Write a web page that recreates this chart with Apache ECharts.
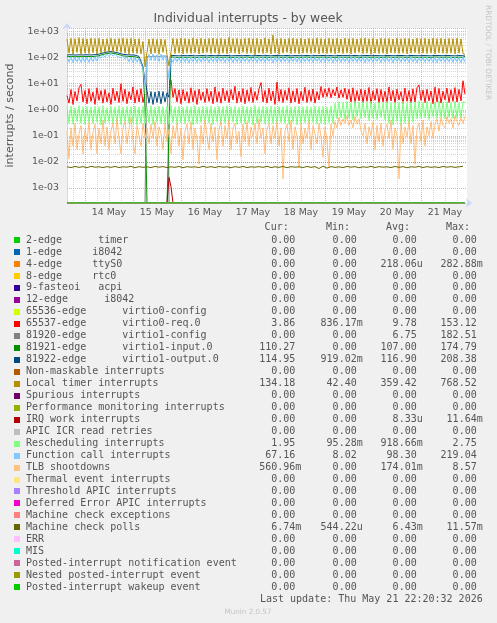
<!DOCTYPE html>
<html><head><meta charset="utf-8">
<script src="https://cdn.jsdelivr.net/npm/echarts@6/dist/echarts.min.js"></script>
<style>html,body{margin:0;padding:0;background:#F0F0F0}#c{width:497px;height:623px}</style>
</head><body><div id="c"></div>
<script>
// ---------------- data ----------------
const seriesNames = [
  "2-edge      timer", "1-edge     i8042", "4-edge     ttyS0", "8-edge     rtc0",
  "9-fasteoi   acpi", "12-edge      i8042", "65536-edge      virtio0-config",
  "65537-edge      virtio0-req.0", "81920-edge      virtio1-config",
  "81921-edge      virtio1-input.0", "81922-edge      virtio1-output.0",
  "Non-maskable interrupts", "Local timer interrupts", "Spurious interrupts",
  "Performance monitoring interrupts", "IRQ work interrupts", "APIC ICR read retries",
  "Rescheduling interrupts", "Function call interrupts", "TLB shootdowns",
  "Thermal event interrupts", "Threshold APIC interrupts", "Deferred Error APIC interrupts",
  "Machine check exceptions", "Machine check polls", "ERR", "MIS",
  "Posted-interrupt notification event", "Nested posted-interrupt event",
  "Posted-interrupt wakeup event"
];
const seriesColors = [
  "#00CC00","#0066B3","#FF8000","#FFCC00","#330099","#990099","#CCFF00","#FF0000",
  "#808080","#008F00","#00487D","#B35A00","#B38F00","#6B006B","#8FB300","#B30000",
  "#BEBEBE","#80FF80","#80C9FF","#FFC080","#FFE680","#AA80FF","#EE00CC","#FF8080",
  "#666600","#FFBFFF","#00FFCC","#CC6699","#999900","#00CC00"
];
const curVals = ["0.00","0.00","0.00","0.00","0.00","0.00","0.00","3.86","0.00","110.27","114.95","0.00","134.18","0.00","0.00","0.00","0.00","1.95","67.16","560.96m","0.00","0.00","0.00","0.00","6.74m","0.00","0.00","0.00","0.00","0.00"];
const minVals = ["0.00","0.00","0.00","0.00","0.00","0.00","0.00","836.17m","0.00","0.00","919.02m","0.00","42.40","0.00","0.00","0.00","0.00","95.28m","8.02","0.00","0.00","0.00","0.00","0.00","544.22u","0.00","0.00","0.00","0.00","0.00"];
const avgVals = ["0.00","0.00","218.06u","0.00","0.00","0.00","0.00","9.78","6.75","107.00","116.90","0.00","359.42","0.00","0.00","8.33u","0.00","918.66m","98.30","174.01m","0.00","0.00","0.00","0.00","6.43m","0.00","0.00","0.00","0.00","0.00"];
const maxVals = ["0.00","0.00","282.88m","0.00","0.00","0.00","0.00","153.12","182.51","174.79","208.38","0.00","768.52","0.00","0.00","11.64m","0.00","2.75","219.04","8.57","0.00","0.00","0.00","0.00","11.57m","0.00","0.00","0.00","0.00","0.00"];
const columnHeaders = ["Cur:", "Min:", "Avg:", "Max:"];
const dayLabels = ["14 May","15 May","16 May","17 May","18 May","19 May","20 May","21 May"];
const yTickLabels = {"-3":"1e-03","-2":"1e-02","-1":"1e-01","0":"1e+00","1":"1e+01","2":"1e+02","3":"1e+03"};
const titleText = "Individual interrupts - by week";
const yAxisName = "interrupts / second";
const lastUpdate = "Last update: Thu May 21 22:20:32 2026";

// hourly samples from 13 May 15:00 (index 0) to 21 May 22:00 (index 199)
const localTimer = [
 520,150,560,140,540,160,590,135,550,150, 530,145,570,155,545,140,560,150,520,160,
 540,170,560,165,530,175,550,160,570,150, 545,140,560,150,530,145,540,140,420,45,
 160,520,140,540,150,510,135,530,160,500, 130,48,170,560,145,540,150,570,140,550,
 150,530,145,580,155,540,140,560,150,520, 160,550,145,570,150,540,135,560,150,530,
 140,600,155,545,150,560,140,530,160,555, 145,570,150,540,130,560,150,520,145,580,
 155,540,140,760,150,545,135,560,150,530, 160,555,145,570,150,540,140,565,150,525,
 150,560,145,540,155,580,140,550,150,520, 145,565,150,540,140,560,155,530,145,570,
 150,545,140,560,150,530,160,555,145,575, 150,540,135,560,150,520,145,565,150,545,
 140,560,155,530,150,570,145,540,150,560, 140,550,150,525,155,565,145,540,150,560,
 145,535,150,570,140,545,155,560,150,530, 145,555,150,540,140,565,150,530,145,134
];
const virtio1Output = [
 128,120,130,118,127,121,129,119,128,122, 130,120,128,123,131,125,138,145,152,160,
 165,168,172,166,162,158,150,142,135,128, 130,122,128,120,126,118,112,95,45,12,
 5.5,1.8,5,1.6,4.8,1.9,5.2,1.7,5,2, 4.5,3,125,132,120,130,118,128,121,131,
 119,129,122,133,118,127,120,134,121,128, 118,130,123,135,119,127,121,132,120,129,
 122,133,118,128,120,136,121,127,119,131, 123,129,118,134,120,128,122,132,119,127,
 121,135,118,129,123,131,120,128,119,133, 122,127,118,132,121,129,120,134,119,128,
 123,130,118,127,121,135,120,129,122,131, 119,128,121,133,118,129,122,130,120,127,
 121,134,119,128,123,131,118,129,120,132, 122,128,119,135,121,127,120,130,118,129,
 123,133,120,128,119,131,122,129,121,134, 118,127,122,132,120,129,119,135,121,128,
 120,130,118,129,123,133,121,127,119,131, 122,128,120,134,118,129,121,130,119,115
];
const virtio1Input = [
 110,104,112,102,109,105,111,103,110,106, 112,104,110,107,113,109,120,127,134,141,
 146,149,152,147,143,139,132,125,118,112, 113,106,111,104,109,102,97,82,40,1.2,
 0,0,0,0,0,0,0,0,0,0, 0,0,108,115,104,113,102,111,105,114,
 103,112,106,116,101,110,104,117,105,111, 102,113,107,118,103,110,105,115,104,112,
 106,116,102,111,104,118,105,110,103,114, 107,112,102,117,104,111,106,115,103,110,
 105,118,102,112,107,114,104,111,103,116, 106,110,102,115,105,112,104,117,103,111,
 107,113,102,110,105,118,104,112,106,114, 103,111,105,116,102,112,106,113,104,110,
 105,117,103,111,107,114,102,112,104,115, 106,111,103,118,105,110,104,113,102,112,
 107,116,104,111,103,114,106,112,105,117, 102,110,106,115,104,112,103,118,105,111,
 104,113,102,112,107,116,105,110,103,114, 106,111,104,117,102,112,105,113,103,110
];
const virtio1Config = [[0,0],[39,0],[40,112],[41,118],[42,110],[43,121],[44,114],[45,119],[46,113],[47,122],[48,116],[49,120],[50,114],[51,0],[199,0]];
const virtio0Req = [
 3.5,1.8,6,1.6,5,2.2,7,9.5,2,5.5, 1.7,6.5,2.1,4.8,1.6,7,2.3,5.5,1.8,6,
 2,4.5,1.6,6.8,2.2,5.2,1.9,10,2.1,6.2, 1.7,5,2.4,7.5,1.8,5.8,2,6.5,1.9,4,
 null,null,null,null,null,null,null,null,null,null, null,null,14,3,6.5,2,5.8,1.7,6,2.2,
 5,1.8,7,2,5.5,1.6,6.2,2.3,4.8,1.9, 6.5,2.1,5.2,1.7,7.5,2,5,1.8,6.8,2.2,
 5.5,1.9,6,2.4,8,1.8,5.2,2,6.5,1.7, 5.8,2.1,7.2,1.9,5,2.3,6.4,11,2,5.5,
 1.8,6.8,2.2,5.3,1.6,11.5,2.1,6,1.9,5.6, 2.3,7,1.8,5.4,2,6.6,1.7,5.1,2.2,7.3,
 1.9,5.7,2.1,6.3,1.8,5,2.4,7.8,3,6.4, 3.2,7,2.9,6,3.4,7.5,2.8,5.8,3,6.8,
 2.5,6.2,2,7,1.8,5.5,2.2,6.3,1.9,5.8, 2.1,7.2,1.7,5.4,2.3,6.5,1.8,6,2,5.2,
 1.9,7.5,2.2,5.6,1.8,6.2,2.4,5,1.7,6.9, 2.1,5.5,1.8,6.4,2,7,9,2.3,5.7,1.9,
 6.1,2.2,5.3,1.7,7.4,2,6.6,1.8,5.2,2.4, 6.8,1.9,5.9,2.1,7.1,2,6,2.2,13,3.9
];
const functionCall = [
 105,68,110,65,102,70,108,66,104,69, 106,67,103,71,109,74,118,95,128,105,
 138,110,145,115,140,112,132,100,122,88, 110,70,104,66,100,68,96,60,40,8,
 75,135,80,140,78,130,72,138,82,125, 70,15,100,66,108,70,104,65,110,68,
 102,64,107,70,105,66,111,68,103,72, 108,65,104,69,112,67,106,71,101,66,
 109,70,103,65,107,68,110,64,104,71, 106,67,102,69,111,65,105,70,108,66,
 103,72,109,64,106,69,112,67,104,70, 107,66,101,71,110,68,105,64,108,69,
 104,70,111,65,106,72,103,67,109,66, 105,71,108,64,102,69,110,66,107,70,
 103,65,109,71,106,67,104,69,111,64, 108,70,102,66,107,72,105,65,110,68,
 104,69,109,64,106,71,103,67,108,70, 105,66,111,69,102,65,107,72,104,67,
 109,70,103,66,108,64,106,71,105,68, 102,69,110,66,107,70,104,65,108,67
];
const rescheduling = [
 1.3,0.3,1.4,0.28,1.2,0.35,1.45,0.3,1.3,0.27, 1.35,0.32,1.25,0.29,1.4,0.33,1.3,0.26,1.45,0.3,
 1.2,0.34,1.38,0.28,1.3,0.31,1.42,0.27,1.25,0.33, 1.35,0.29,1.3,0.32,1.4,0.26,1.28,0.3,1.36,0.28,
 1.3,0.31,1.42,0.27,1.25,0.33,1.38,0.29,1.32,0.3, 1.4,0.28,1.5,0.32,1.3,0.27,1.36,0.31,1.25,0.29,
 1.38,0.33,1.3,0.26,1.44,0.3,1.28,0.32,1.35,0.28, 1.3,0.31,1.4,0.27,1.26,0.34,1.37,0.29,1.32,0.3,
 1.42,0.28,1.3,0.33,1.36,0.27,1.25,0.31,1.4,0.29, 1.33,0.32,1.28,0.26,1.45,0.3,1.3,0.33,1.38,0.28,
 1.26,0.31,1.4,0.29,1.32,0.27,1.36,0.32,1.3,0.3, 1.44,0.28,1.28,0.33,1.35,0.26,1.4,0.3,1.3,0.31,
 1.38,0.29,1.27,0.32,1.42,0.28,1.33,0.3,1.36,0.27, 1.3,0.32,1.4,0.29,1.8,0.45,2.0,0.5,1.9,0.42,
 2.1,0.48,1.85,0.4,2.2,0.55,1.95,0.45,2.05,0.5, 1.9,0.38,2.15,0.47,1.8,0.42,2.0,0.52,1.88,0.4,
 2.1,0.3,1.85,0.26,2.0,0.35,1.9,0.25,2.15,0.3, 1.8,0.28,2.05,0.33,1.95,0.45,2.2,0.5,1.9,0.48,
 2.1,0.42,1.85,0.55,2.0,0.47,2.2,0.5,1.95,0.44, 2.05,0.52,1.9,0.46,2.15,0.5,1.85,0.48,2.0,1.95
];
const tlbShootdowns = [
 0.15,0.013,0.2,0.04,0.3,0.03,0.12,0.25,0.02,0.18, 0.06,0.35,0.03,0.14,0.28,0.02,0.2,0.05,0.4,0.04,
 0.22,0.03,0.15,0.3,0.05,0.45,0.08,0.02,0.2,0.35, 0.05,0.18,0.5,0.06,0.02,0.25,0.1,0.04,0.3,0.08,
 0.2,0.05,0.28,0.08,0.35,0.04,0.22,0.12,0.03,0.3, 0.06,0.18,0.02,0.25,0.08,0.3,0.04,0.2,0.012,0.15,
 0.28,0.05,0.35,0.03,0.2,0.07,0.008,0.25,0.05,0.4, 0.1,0.03,0.3,0.06,0.22,0.012,0.18,0.35,0.04,0.25,
 0.08,0.4,0.03,0.2,0.3,0.05,0.15,0.015,0.28,0.06, 0.35,0.04,0.22,0.09,0.3,0.05,0.45,0.08,0.2,0.02,
 0.18,0.3,0.05,0.25,0.08,0.35,0.04,0.2,0.0022,0.15, 0.28,0.06,0.4,0.03,0.22,0.1,0.006,0.3,0.05,0.2,
 0.08,0.35,0.03,0.25,0.12,0.05,0.3,0.09,0.015,0.22, 0.06,0.006,0.28,0.1,0.35,0.2,0.5,0.25,0.45,0.3,
 0.6,0.25,0.4,0.2,0.55,0.28,0.45,0.15,0.1,0.3, 0.05,0.22,0.1,0.35,0.03,0.25,0.06,0.3,0.04,0.18,
 0.28,0.08,0.4,0.03,0.2,0.1,0.0022,0.3,0.05,0.22, 0.09,0.35,0.05,0.25,0.008,0.18,0.3,0.06,0.4,0.04,
 0.22,0.1,0.35,0.08,0.28,0.45,0.15,0.5,0.25,0.2, 0.55,0.3,0.45,0.2,0.6,0.35,0.25,0.5,0.3,0.56
];
// two-hourly samples
const machineCheckPolls = [
 0.0064,0.0060,0.0066,0.0061,0.0065,0.0059,0.0067,0.0062,0.0064,0.0060,
 0.0065,0.0061,0.0066,0.0060,0.0064,0.0062,0.0067,0.0059,0.0065,0.0061,
 0.0064,0.0060,0.0066,0.0062,0.0065,0.0060,0.0064,0.0061,0.0066,0.0059,
 0.0065,0.0062,0.0064,0.0060,0.0067,0.0061,0.0065,0.0060,0.0066,0.0062,
 0.0064,0.0059,0.0065,0.0061,0.0066,0.0060,0.0064,0.0062,0.0065,0.0061,
 0.0067,0.0060,0.0064,0.0061,0.0066,0.0059,0.0065,0.0062,0.0064,0.0060,
 0.0066,0.0061,0.0065,0.0055,0.0068,0.0057,0.0065,0.0061,0.0064,0.0060,
 0.0066,0.0062,0.0065,0.0059,0.0064,0.0061,0.0067,0.0060,0.0065,0.0062,
 0.0064,0.0060,0.0066,0.0061,0.0065,0.0059,0.0064,0.0062,0.0066,0.0060,
 0.0065,0.0061,0.0064,0.0060,0.0066,0.0062,0.0065,0.0061,0.0064,0.0067
];
const irqWork = [[0,0],[50,0],[51,0.0025],[52,0.0011],[53,0],[199,0]];
const zeroLine = [[0,0],[199,0]];

// series sources, in legend order
const seriesSources = [
  {pairs: zeroLine}, {pairs: zeroLine}, {pairs: zeroLine}, {pairs: zeroLine}, {pairs: zeroLine},
  {pairs: zeroLine}, {pairs: zeroLine}, {values: virtio0Req, step: 1}, {pairs: virtio1Config},
  {values: virtio1Input, step: 1}, {values: virtio1Output, step: 1}, {pairs: zeroLine},
  {values: localTimer, step: 1}, {pairs: zeroLine}, {pairs: zeroLine}, {pairs: irqWork},
  {pairs: zeroLine}, {values: rescheduling, step: 1}, {values: functionCall, step: 1},
  {values: tlbShootdowns, step: 1}, {pairs: zeroLine}, {pairs: zeroLine}, {pairs: zeroLine},
  {pairs: zeroLine}, {values: machineCheckPolls, step: 2}, {pairs: zeroLine}, {pairs: zeroLine},
  {pairs: zeroLine}, {pairs: zeroLine}, {pairs: zeroLine}
];

// ---------------- layout ----------------
const GRID = {left: 67, top: 28, width: 400, height: 175};
const Y_MIN = 2.6e-4, Y_MAX = 1390;
const SLOTS_PER_HOUR = 2;
const START = Date.UTC(2026, 4, 13, 15, 0);
const NSLOTS = 401;
const slotLabels = [];
for (let i = 0; i < NSLOTS; i++) {
  const d = new Date(START + i * 1800000);
  slotLabels.push(d.toISOString().slice(0, 16).replace('T', ' '));
}
const slotHourMin = i => { const d = new Date(START + i * 1800000); return [d.getUTCHours(), d.getUTCMinutes()]; };
const isMidnight = i => { const [h, m] = slotHourMin(i); return h === 0 && m === 0; };
const isNoon = i => { const [h, m] = slotHourMin(i); return h === 12 && m === 0; };
const isSixHour = i => { const [h, m] = slotHourMin(i); return m === 0 && h % 6 === 0 && h !== 0; };

const TXT = '#555555';
const MAJOR = 'rgba(220,90,90,0.5)';
const MINOR = 'rgba(150,150,150,0.4)';
const AXIS = '#CFD6F8';

function clampLog(v) { return v == null ? '-' : (v <= 0 ? Y_MIN : v); }
function buildData(src) {
  if (src.pairs) return src.pairs.map(([h, v]) => [h * SLOTS_PER_HOUR, clampLog(v)]);
  return src.values.map((v, i) => [i * src.step * SLOTS_PER_HOUR, clampLog(v)]);
}

const minorY = [];
for (let n = -4; n <= 3; n++) for (let k = 2; k <= 9; k++) {
  const v = k * Math.pow(10, n);
  if (v > Y_MIN && v < Y_MAX) minorY.push({yAxis: v});
}

const series = [{
  type: 'line', data: [], z: 1, silent: true,
  markLine: {silent: true, symbol: ['none', 'none'], label: {show: false}, animation: false,
    lineStyle: {color: MINOR, type: 'dotted', width: 1}, emphasis: {disabled: true}, data: minorY}
}];
seriesNames.forEach((name, idx) => {
  series.push({
    name, type: 'line', data: buildData(seriesSources[idx]), showSymbol: false, symbol: 'none',
    lineStyle: {color: seriesColors[idx], width: 1}, itemStyle: {color: seriesColors[idx]},
    connectNulls: false, silent: true, animation: false, z: 2, clip: true
  });
});

// legend graphics
const MONO = 'DejaVu Sans Mono';
const ROW0 = 240, ROWH = 11.976;
const numEdges = [295.3, 356.7, 416.7, 476.7];
const CH = 6.02;
const elements = [];
elements.push({type: 'text', x: 248, y: 19, style: {text: titleText, fontSize: 12.4, fontFamily: 'DejaVu Sans', fill: TXT, align: 'center', verticalAlign: 'middle'}});
elements.push({type: 'text', x: 488, y: 5, rotation: -Math.PI / 2, style: {text: 'RRDTOOL / TOBI OETIKER', fontSize: 7.4, fontFamily: 'DejaVu Sans', fill: '#c4c4c4', align: 'left', verticalAlign: 'middle'}});
columnHeaders.forEach((h, c) => {
  elements.push({type: 'text', x: numEdges[c] - 6.6, y: 227.3, style: {text: h, fontSize: 10, fontFamily: MONO, fill: TXT, align: 'right', verticalAlign: 'middle'}});
});
const cols = [curVals, minVals, avgVals, maxVals];
seriesNames.forEach((name, k) => {
  const y = ROW0 + ROWH * k;
  elements.push({type: 'rect', shape: {x: 14, y: Math.round(y) - 3, width: 6, height: 6}, style: {fill: seriesColors[k]}});
  elements.push({type: 'text', x: 26, y, style: {text: name, fontSize: 10, fontFamily: MONO, fill: TXT, align: 'left', verticalAlign: 'middle'}});
  cols.forEach((arr, c) => {
    const s = arr[k];
    const suffixed = /[a-zA-Z]$/.test(s);
    elements.push({type: 'text', x: numEdges[c] + (suffixed ? CH : 0), y, style: {text: s, fontSize: 10, fontFamily: MONO, fill: TXT, align: 'right', verticalAlign: 'middle'}});
  });
});
elements.push({type: 'text', x: 482.7, y: ROW0 + ROWH * 30, style: {text: lastUpdate, fontSize: 10, fontFamily: MONO, fill: TXT, align: 'right', verticalAlign: 'middle'}});
elements.push({type: 'text', x: 248, y: 612, style: {text: 'Munin 2.0.57', fontSize: 7.2, fontFamily: 'DejaVu Sans', fill: '#c4c4c4', align: 'center', verticalAlign: 'middle'}});

const chart = echarts.init(document.getElementById('c'), null, {renderer: 'canvas', width: 497, height: 623});
chart.setOption({
  backgroundColor: '#F0F0F0',
  animation: false,
  textStyle: {fontFamily: 'DejaVu Sans'},
  grid: {left: GRID.left, top: GRID.top, width: GRID.width, height: GRID.height, containLabel: false,
    outerBoundsMode: 'none', show: true, backgroundColor: '#FFFFFF', borderWidth: 0},
  xAxis: [{
    type: 'category', data: slotLabels, boundaryGap: false,
    axisLine: {show: true, onZero: false, lineStyle: {color: AXIS, width: 1}, symbol: ['none', 'arrow'], symbolSize: [7, 6], symbolOffset: [0, 5]},
    axisTick: {show: false},
    axisLabel: {interval: (i) => isNoon(i), formatter: (v, i) => dayLabels[Math.round((i - 42) / 48)] || '',
      color: TXT, fontSize: 9.4, fontFamily: 'DejaVu Sans', margin: 5, hideOverlap: false},
    splitLine: {show: true, interval: (i) => isMidnight(i), lineStyle: {color: MAJOR, type: 'dotted', width: 1}}
  }, {
    type: 'category', data: slotLabels, boundaryGap: false, position: 'bottom',
    axisLine: {show: false}, axisTick: {show: false}, axisLabel: {show: false},
    splitLine: {show: true, interval: (i) => isSixHour(i), lineStyle: {color: MINOR, type: 'dotted', width: 1}}
  }],
  yAxis: {
    type: 'log', logBase: 10, min: Y_MIN, max: Y_MAX,
    axisLine: {show: true, lineStyle: {color: AXIS, width: 1}, symbol: ['none', 'arrow'], symbolSize: [7, 6], symbolOffset: [0, 5]},
    axisTick: {show: false},
    axisLabel: {showMinLabel: false, showMaxLabel: false, color: TXT, fontSize: 9.4, fontFamily: 'DejaVu Sans', margin: 8,
      formatter: (v) => { const e = Math.log10(v); const r = Math.round(e); return Math.abs(e - r) < 1e-6 ? (yTickLabels[String(r)] || '') : ''; }},
    splitLine: {show: true, lineStyle: {color: MAJOR, type: 'dotted', width: 1}},
    name: yAxisName, nameLocation: 'middle', nameGap: 51, nameRotate: 90,
    nameTextStyle: {color: TXT, fontSize: 11, fontFamily: 'DejaVu Sans'}
  },
  graphic: {elements},
  series
});
</script></body></html>
